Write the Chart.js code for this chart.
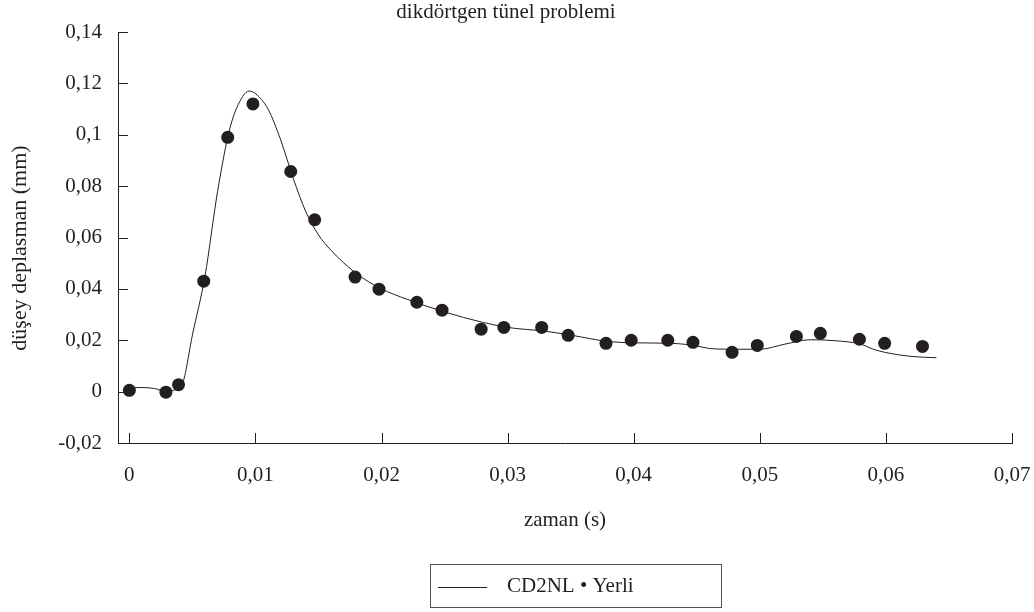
<!DOCTYPE html>
<html lang="tr">
<head>
    <meta charset="UTF-8">
    <title>dikdörtgen tünel problemi</title>
    <script src="https://cdn.jsdelivr.net/npm/chart.js"></script>
    <style>
        body { margin: 0; padding: 0; background: #ffffff; }
        #wrap { width: 1034px; height: 612px; }
    </style>
</head>
<body>
    <div id="wrap"><canvas id="chart"></canvas></div>

    <script>
        // CD2NL (sürekli çizgi)
        const cd2nlX = [0, 0.001, 0.002, 0.003, 0.0035, 0.0042, 0.005, 0.006, 0.007, 0.008, 0.009, 0.0095, 0.010, 0.011, 0.012, 0.013, 0.014, 0.015, 0.016, 0.018, 0.020, 0.022, 0.025, 0.028, 0.030, 0.033, 0.035, 0.038, 0.040, 0.043, 0.045, 0.046, 0.048, 0.050, 0.052, 0.054, 0.056, 0.058, 0.059, 0.060, 0.062, 0.064];
        const cd2nlY = [0.0015, 0.0016, 0.0012, 0.0000, 0.0005, 0.0030, 0.0220, 0.0450, 0.0780, 0.1030, 0.1150, 0.1170, 0.1160, 0.1100, 0.0980, 0.0830, 0.0700, 0.0610, 0.0550, 0.0460, 0.0400, 0.0360, 0.0310, 0.0270, 0.0250, 0.0235, 0.0220, 0.0195, 0.0190, 0.0188, 0.0178, 0.0168, 0.0165, 0.0165, 0.0185, 0.0202, 0.0198, 0.0185, 0.0165, 0.0152, 0.0137, 0.0132];

        // Yerli ölçümler (noktalar)
        const yerliX = [0, 0.0029, 0.0039, 0.0059, 0.0078, 0.0098, 0.0128, 0.0147, 0.0179, 0.0198, 0.0228, 0.0248, 0.0279, 0.0297, 0.0327, 0.0348, 0.0378, 0.0398, 0.0427, 0.0447, 0.0478, 0.0498, 0.0529, 0.0548, 0.0579, 0.0599, 0.0629];
        const yerliY = [0.0005, -0.0002, 0.0027, 0.0430, 0.0990, 0.1120, 0.0857, 0.0669, 0.0446, 0.0399, 0.0348, 0.0317, 0.0243, 0.0250, 0.0250, 0.0219, 0.0188, 0.0200, 0.0200, 0.0192, 0.0153, 0.0180, 0.0215, 0.0227, 0.0204, 0.0188, 0.0176];

        const xTicks = [0, 0.01, 0.02, 0.03, 0.04, 0.05, 0.06, 0.07];
        const yTicks = [-0.02, 0, 0.02, 0.04, 0.06, 0.08, 0.1, 0.12, 0.14];

        const ink = "#231f20";
        const serif = "'Liberation Serif', 'DejaVu Serif', serif";

        function fmt(v) {
            return String(Math.round(v * 100) / 100).replace(".", ",");
        }

        // iç tarafa bakan tik çizgileri + dikey eksen başlığı
        const innerTicks = {
            id: "innerTicks",
            afterDraw(chart) {
                const { ctx, chartArea, scales } = chart;
                ctx.save();
                ctx.strokeStyle = ink;
                ctx.lineWidth = 1;
                ctx.beginPath();
                yTicks.forEach(v => {
                    const y = Math.round(scales.y.getPixelForValue(v)) + 0.5;
                    ctx.moveTo(chartArea.left, y);
                    ctx.lineTo(chartArea.left + 10, y);
                });
                xTicks.forEach(v => {
                    const x = Math.round(scales.x.getPixelForValue(v)) + 0.5;
                    ctx.moveTo(x, chartArea.bottom);
                    ctx.lineTo(x, chartArea.bottom - 10);
                });
                ctx.stroke();

                ctx.translate(20, 248);
                ctx.rotate(-Math.PI / 2);
                ctx.fillStyle = ink;
                ctx.font = "22px " + serif;
                ctx.textAlign = "center";
                ctx.textBaseline = "middle";
                ctx.fillText("düşey deplasman (mm)", 0, 0);
                ctx.restore();
            }
        };

        // çerçeveli açıklama kutusu
        const boxLegend = {
            id: "boxLegend",
            afterDraw(chart) {
                const ctx = chart.ctx;
                ctx.save();
                ctx.strokeStyle = "#555";
                ctx.lineWidth = 1;
                ctx.strokeRect(430.5, 564.5, 291, 43);
                ctx.strokeStyle = ink;
                ctx.beginPath();
                ctx.moveTo(438, 587.5);
                ctx.lineTo(487, 587.5);
                ctx.stroke();
                ctx.fillStyle = ink;
                ctx.font = "21px " + serif;
                ctx.textBaseline = "middle";
                ctx.fillText("CD2NL • Yerli", 507, 586);
                ctx.restore();
            }
        };

        new Chart(document.getElementById("chart"), {
            type: "scatter",
            data: {
                datasets: [
                    {
                        label: "Yerli",
                        data: yerliX.map((x, i) => ({ x, y: yerliY[i] })),
                        pointRadius: 6.5,
                        pointBackgroundColor: ink,
                        pointBorderWidth: 0,
                        showLine: false
                    },
                    {
                        label: "CD2NL",
                        data: cd2nlX.map((x, i) => ({ x, y: cd2nlY[i] })),
                        showLine: true,
                        borderColor: ink,
                        borderWidth: 1,
                        pointRadius: 0,
                        cubicInterpolationMode: "monotone"
                    }
                ]
            },
            options: {
                responsive: true,
                maintainAspectRatio: false,
                animation: false,
                events: [],
                layout: { padding: { left: 0, right: 22, top: 0, bottom: 72 } },
                plugins: {
                    legend: { display: false },
                    tooltip: { enabled: false },
                    title: {
                        display: true,
                        text: "dikdörtgen tünel problemi",
                        color: ink,
                        font: { family: serif, size: 21, weight: "normal" },
                        padding: { top: 0, bottom: 6.8 }
                    }
                },
                scales: {
                    x: {
                        type: "linear",
                        min: -0.0009,
                        max: 0.07,
                        afterBuildTicks: scale => { scale.ticks = xTicks.map(v => ({ value: v })); },
                        afterFit: scale => {
                            scale.height = 97;
                            scale.paddingLeft = 0;
                            scale.paddingRight = 0;
                        },
                        grid: { drawOnChartArea: false, drawTicks: false },
                        border: { display: true, color: ink, width: 1 },
                        ticks: {
                            color: ink,
                            padding: 20,
                            maxRotation: 0,
                            font: { family: serif, size: 21 },
                            callback: v => fmt(v)
                        },
                        title: {
                            display: true,
                            text: "zaman (s)",
                            color: ink,
                            font: { family: serif, size: 21 },
                            padding: { top: 0, bottom: 7.4 }
                        }
                    },
                    y: {
                        min: -0.02,
                        max: 0.14,
                        afterBuildTicks: scale => { scale.ticks = yTicks.map(v => ({ value: v })); },
                        afterFit: scale => {
                            scale.width = 118;
                            scale.paddingTop = 0;
                            scale.paddingBottom = 0;
                        },
                        grid: { drawOnChartArea: false, drawTicks: false },
                        border: { display: true, color: ink, width: 1 },
                        ticks: {
                            color: ink,
                            padding: 16,
                            font: { family: serif, size: 21 },
                            callback: v => fmt(v)
                        }
                    }
                }
            },
            plugins: [innerTicks, boxLegend]
        });
    </script>
</body>
</html>
